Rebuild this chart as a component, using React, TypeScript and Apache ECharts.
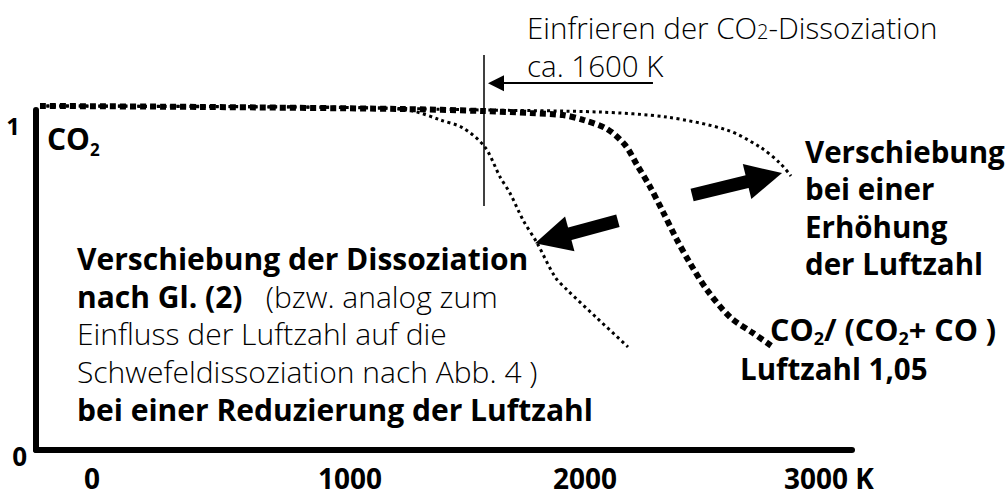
import React, { useEffect, useRef } from 'react';
import * as echarts from 'echarts';

// ---- data (schematic) ----
const xTicks = [0, 1000, 2000, 3000];
const yTicks = [0, 1];

// CO2 / (CO2 + CO) at air ratio 1.05 (thick dotted curve)
const curveLuft105: [number, number][] = [
  [-250, 1.012], [417, 1.009], [1250, 1.003], [1596, 0.997], [1792, 0.991],
  [1929, 0.985], [2013, 0.971], [2113, 0.944], [2188, 0.897], [2238, 0.838],
  [2292, 0.774], [2346, 0.7], [2404, 0.618], [2458, 0.55], [2529, 0.471],
  [2625, 0.391], [2721, 0.344], [2804, 0.303],
];
// shifted curve for a higher air ratio
const curveHigher: [number, number][] = [
  [-250, 1.012], [833, 1.009], [1596, 1.0], [2083, 0.994], [2363, 0.979],
  [2613, 0.941], [2750, 0.891], [2833, 0.844], [2879, 0.806],
];
// shifted curve for a lower air ratio
const curveLower: [number, number][] = [
  [-250, 1.012], [625, 1.009], [1167, 1.006], [1304, 0.997], [1417, 0.971],
  [1513, 0.947], [1604, 0.891], [1667, 0.803], [1708, 0.756], [1763, 0.676],
  [1821, 0.609], [1896, 0.509], [1946, 0.471], [2071, 0.388], [2200, 0.303],
];
const freezeTemp = 1600;
const freezeLine: [number, number][] = [[freezeTemp, 1.162], [freezeTemp, 0.718]];
const arrowFreeze: [number, number][] = [[2304, 1.079], [1650, 1.079]];
const arrowLower: [number, number][] = [[2158, 0.674], [1885, 0.622]];
const arrowHigher: [number, number][] = [[2467, 0.75], [2769, 0.802]];

const FONT = '"Open Sans", "DejaVu Sans", sans-serif';

export default function App() {
  const ref = useRef<HTMLDivElement>(null);
  useEffect(() => {
    if (!ref.current) return;
    const chart = echarts.init(ref.current, undefined, { renderer: 'svg' });
    const dotted = (w: number, d: number[]) => ({
      color: '#000', width: w, type: d, cap: 'butt' as const,
    });
    const B = { fontFamily: FONT, fontWeight: 'bold' as const, color: '#000' };
    const L = { fontFamily: FONT, fontWeight: 300 as any, color: '#000' };
    const xl = { ...B, fontSize: 28, lineHeight: 20 };
    chart.setOption({
      animation: false,
      backgroundColor: '#fff',
      grid: {
        left: 36, right: 156, top: 110, bottom: 47,
        containLabel: false, outerBoundsMode: 'none',
      },
      xAxis: {
        type: 'value',
        min: -800 / 3,
        max: 9400 / 3,
        splitLine: { show: false },
        axisTick: { show: false },
        axisLine: { show: true, onZero: false, lineStyle: { color: '#000', width: 6 } },
        axisLabel: {
          customValues: xTicks,
          formatter: (v: number) =>
            v === 0 ? '{t0|0}' : v === 1000 ? '{t1|1000}' : v === 2000 ? '{t2|2000}' : '{t3|3000 K}',
          margin: 18,
          rich: {
            t0: { ...xl, padding: [0, 16, 0, 0] },
            t1: { ...xl, padding: [0, 0, 0, 20] },
            t2: { ...xl, padding: [0, 0, 0, 10] },
            t3: { ...xl, padding: [0, 0, 0, 18] },
          },
        },
      },
      yAxis: {
        type: 'value',
        min: 0,
        max: 1,
        splitLine: { show: false },
        axisTick: { show: false },
        axisLine: { show: true, onZero: false, lineStyle: { color: '#000', width: 6 } },
        axisLabel: {
          customValues: yTicks,
          margin: 9,
          formatter: (v: number) => (v === 1 ? '{one|1}' : '{zero|0}'),
          rich: {
            one: { ...B, fontSize: 24, padding: [30, 7, 0, 0] },
            zero: { ...B, fontSize: 26, padding: [12, 0, 0, 0] },
          },
        },
      },
      series: [
        {
          type: 'line', data: curveHigher, symbol: 'none', smooth: 0.3, clip: false,
          lineStyle: dotted(3, [3, 3.5]), z: 3,
        },
        {
          type: 'line', data: curveLower, symbol: 'none', smooth: 0.3, clip: false,
          lineStyle: dotted(3, [3, 3.5]), z: 3,
        },
        {
          type: 'line', data: curveLuft105, symbol: 'none', smooth: 0.3, clip: false,
          lineStyle: dotted(6, [6, 4]), z: 4,
        },
        {
          type: 'line', data: freezeLine, symbol: 'none', clip: false,
          lineStyle: { color: '#000', width: 1.5, type: 'solid' }, z: 5,
        },
        {
          type: 'lines', coordinateSystem: 'cartesian2d', clip: false, silent: true,
          symbol: ['none', 'triangle'], symbolSize: 16,
          lineStyle: { color: '#000', width: 2, opacity: 1, type: 'solid', curveness: 0 },
          itemStyle: { color: '#000' },
          data: [{ coords: arrowFreeze }], z: 5,
        },
        {
          type: 'lines', coordinateSystem: 'cartesian2d', clip: false, silent: true,
          symbol: ['none', 'triangle'], symbolSize: 36,
          lineStyle: { color: '#000', width: 13, opacity: 1, type: 'solid', curveness: 0 },
          itemStyle: { color: '#000' },
          data: [{ coords: arrowLower }, { coords: arrowHigher }], z: 5,
        },
      ],
      graphic: [
        {
          type: 'text', x: 47, y: 138.7, silent: true,
          style: {
            text: '{a|CO}{s|2}', verticalAlign: 'middle',
            rich: {
              a: { ...B, fontSize: 30, lineHeight: 32, verticalAlign: 'middle' },
              s: { ...B, fontSize: 17, lineHeight: 10, padding: [22, 0, 0, 0], verticalAlign: 'middle' },
            },
          },
        },
        {
          type: 'text', x: 527, y: 27.8, silent: true,
          style: {
            text: '{l|Einfrieren der CO}{sm|2}{l|-Dissoziation}',
            verticalAlign: 'middle',
            rich: {
              l: { ...L, fontSize: 29.5, lineHeight: 30, verticalAlign: 'middle' },
              sm: { ...L, fontSize: 20, lineHeight: 14, padding: [8, 0, 0, 0], verticalAlign: 'middle' },
            },
          },
        },
        {
          type: 'text', x: 527, y: 65, silent: true,
          style: { text: 'ca. 1600 K', verticalAlign: 'middle', ...L, fontSize: 29.5 },
        },
        {
          type: 'text', x: 77, y: 239.6, silent: true,
          style: {
            text: [
              '{b|Verschiebung der Dissoziation}',
              '{b|nach Gl. (2)}{l|   (bzw. analog zum}',
              '{l|Einfluss der Luftzahl auf die}',
              '{l|Schwefeldissoziation nach Abb. 4 )}',
              '{b|bei einer Reduzierung der Luftzahl}',
            ].join('\n'),
            verticalAlign: 'top',
            rich: {
              b: { ...B, fontSize: 30, lineHeight: 37.7, verticalAlign: 'middle' },
              l: { ...L, fontSize: 30, lineHeight: 37.7, verticalAlign: 'middle' },
            },
          },
        },
        {
          type: 'text', x: 805, y: 132.5, silent: true,
          style: {
            text: '{b|Verschiebung}\n{b|bei einer}\n{b|Erhöhung}\n{b|der Luftzahl}',
            verticalAlign: 'top',
            rich: { b: { ...B, fontSize: 29.5, lineHeight: 37.5, verticalAlign: 'middle' } },
          },
        },
        {
          type: 'text', x: 770, y: 328.7, silent: true,
          style: {
            text: '{a|CO}{s|2}{a|/ (CO}{s|2}{a|+ CO )}',
            verticalAlign: 'middle',
            rich: {
              a: { ...B, fontSize: 30.5, lineHeight: 30, verticalAlign: 'middle' },
              s: { ...B, fontSize: 18, lineHeight: 12, padding: [18, 0, 0, 0], verticalAlign: 'middle' },
            },
          },
        },
        {
          type: 'text', x: 740, y: 368.7, silent: true,
          style: { text: 'Luftzahl 1,05', verticalAlign: 'middle', ...B, fontSize: 29.5 },
        },
      ],
    });
    return () => chart.dispose();
  }, []);
  return (
    <div
      ref={ref}
      style={{ position: 'absolute', left: 0, top: 0, width: 1008, height: 497, background: '#fff' }}
    />
  );
}
